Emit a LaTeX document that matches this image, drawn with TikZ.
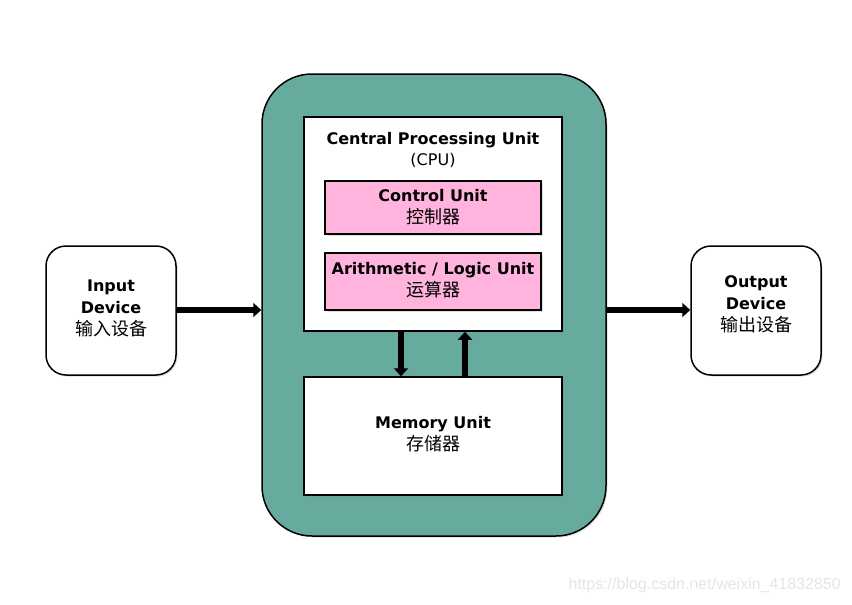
\documentclass[tikz,border=0pt]{standalone}
\usepackage{fontspec}
\setmainfont{DejaVu Sans}
\newfontfamily\cjkfam{Noto Sans CJK SC}
\newcommand{\zh}{\fontsize{18}{22}\selectfont\cjkfam}
\newfontfamily\wmfont{Liberation Sans}
\usetikzlibrary{arrows.meta,shadows}
\definecolor{teal1}{HTML}{67AB9F}
\definecolor{pink1}{HTML}{FFB3DD}
\begin{document}
\begin{tikzpicture}[x=1pt,y=-1pt,
  box/.style={draw=black,line width=1.5pt,drop shadow={shadow xshift=1.5pt,shadow yshift=-1.5pt,opacity=0.25}},
  lbl/.style={align=center,inner sep=0pt,font=\fontsize{16}{22}\selectfont},
  conn/.style={line width=5.5pt,-{Triangle[length=8pt,width=14pt]}}]
\useasboundingbox (0,0) rectangle (852,605);
% outer CPU container
\node[box,fill=teal1,rounded corners=50pt,minimum width=344pt,minimum height=462pt,inner sep=0pt] (outer) at (434,305) {};
% CPU box
\node[box,fill=white,minimum width=258pt,minimum height=214pt,inner sep=0pt] (cpu) at (433,224) {};
\node[lbl,font=\fontsize{16}{21}\selectfont] (cputxt) at (433,150) {\bfseries Central Processing Unit\\ (CPU)};
\node[box,fill=pink1,minimum width=216pt,minimum height=53pt,inner sep=0pt] (cu) at (433,207.5) {};
\node[lbl] (cutxt) at (433,207) {\bfseries Control Unit\\ {\zh 控制器}};
\node[box,fill=pink1,minimum width=216pt,minimum height=57pt,inner sep=0pt] (alu) at (433,281.5) {};
\node[lbl] (alutxt) at (433,280) {\bfseries Arithmetic / Logic Unit\\ {\zh 运算器}};
% memory
\node[box,fill=white,minimum width=258pt,minimum height=118pt,inner sep=0pt] (mem) at (433,436) {};
\node[lbl] (memtxt) at (433,434) {\bfseries Memory Unit\\ {\zh 存储器}};
% input / output
\node[box,fill=white,rounded corners=20pt,minimum width=130pt,minimum height=129pt,inner sep=0pt] (in) at (111,310.5) {};
\node[lbl] (intxt) at (111,308) {\bfseries Input\\ \bfseries Device\\ {\zh 输入设备}};
\node[box,fill=white,rounded corners=20pt,minimum width=130pt,minimum height=129pt,inner sep=0pt] (out) at (756,310.5) {};
\node[lbl] (outtxt) at (756,304) {\bfseries Output\\ \bfseries Device\\ {\zh 输出设备}};
% connectors
\draw[conn] (in.east |- 0,310) -- (outer.west |- 0,310);
\draw[conn] (outer.east |- 0,310) -- (out.west |- 0,310);
\draw[conn] (cpu.south -| 401,0) -- (mem.north -| 401,0);
\draw[conn] (mem.north -| 465,0) -- (cpu.south -| 465,0);
% watermark
\node[text=black!10,font=\fontsize{16}{18}\selectfont\wmfont,anchor=east,inner sep=0pt] (wm) at (841,585) {https://blog.csdn.net/weixin\_41832850};
\end{tikzpicture}
\end{document}
